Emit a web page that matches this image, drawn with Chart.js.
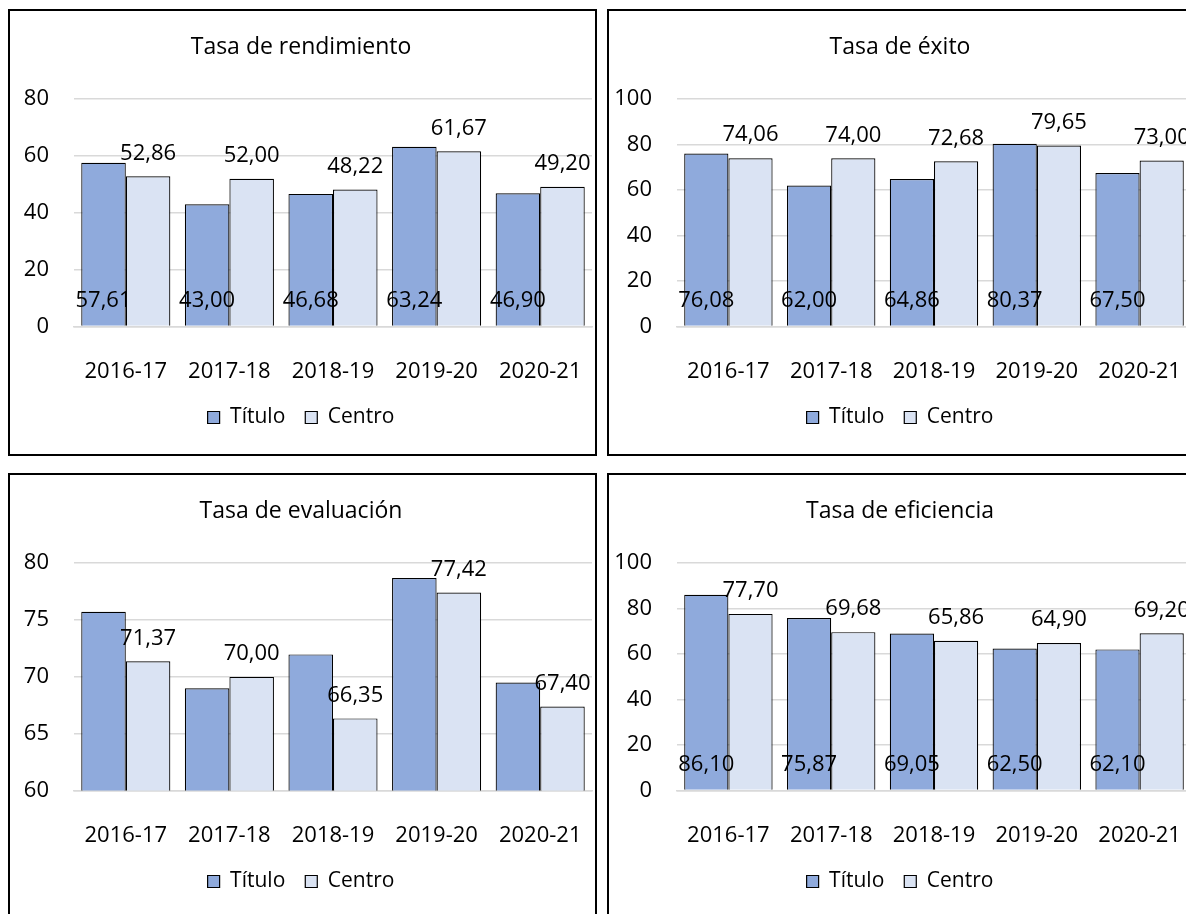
<!DOCTYPE html>
<html>
<head>
<meta charset="utf-8">
<script src="https://cdn.jsdelivr.net/npm/chart.js@4"></script>
<style>
  html, body { margin: 0; padding: 0; background: #fff; overflow: hidden; width: 1186px; height: 914px; }
  .panel { position: absolute; width: 585px; height: 443px; border: 2px solid #000; background: #fff; }
  canvas { display: block; }
</style>
</head>
<body>
<div class="panel" style="left:8px; top:9px;"><canvas id="rendChart" width="585" height="443"></canvas></div>
<div class="panel" style="left:607px; top:9px;"><canvas id="exitoChart" width="585" height="443"></canvas></div>
<div class="panel" style="left:8px; top:473px;"><canvas id="evalChart" width="585" height="443"></canvas></div>
<div class="panel" style="left:607px; top:473px;"><canvas id="eficChart" width="585" height="443"></canvas></div>
<script>
// Data
const years = ['2016-17', '2017-18', '2018-19', '2019-20', '2020-21'];
const seriesNames = ['Título', 'Centro'];

const rendTitulo = [57.61, 43.00, 46.68, 63.24, 46.90];
const rendCentro = [52.86, 52.00, 48.22, 61.67, 49.20];

const exitoTitulo = [76.08, 62.00, 64.86, 80.37, 67.50];
const exitoCentro = [74.06, 74.00, 72.68, 79.65, 73.00];

const evalTitulo = [75.72, 69.00, 71.98, 78.69, 69.50];
const evalCentro = [71.37, 70.00, 66.35, 77.42, 67.40];

const eficTitulo = [86.10, 75.87, 69.05, 62.50, 62.10];
const eficCentro = [77.70, 69.68, 65.86, 64.90, 69.20];

const FONT = '"Open Sans", "Noto Sans", sans-serif';

// value labels: Título at the base of the bar, Centro above the bar
const valueLabels = {
  id: 'valueLabels',
  afterDatasetsDraw(chart) {
    const ctx = chart.ctx;
    ctx.save();
    ctx.font = '22px ' + FONT;
    ctx.fillStyle = '#000';
    ctx.textAlign = 'center';
    ctx.textBaseline = 'middle';
    chart.data.datasets.forEach((ds, i) => {
      chart.getDatasetMeta(i).data.forEach((bar, j) => {
        const txt = ds.data[j].toFixed(2).replace('.', ',');
        const y = i === 0 ? bar.base - 25 : bar.y - 23;
        ctx.fillText(txt, bar.x, y);
      });
    });
    ctx.restore();
  }
};

function makeChart(id, title, titulo, centro, yMin, yMax, yStep, axisWidth) {
  const ctx = document.getElementById(id).getContext('2d');
  return new Chart(ctx, {
    type: 'bar',
    data: {
      labels: years,
      datasets: [{
        label: seriesNames[0],
        data: titulo,
        backgroundColor: '#8FAADC',
        borderColor: '#000',
        borderWidth: 1.2,
        barPercentage: 1,
        categoryPercentage: 0.86
      }, {
        label: seriesNames[1],
        data: centro,
        backgroundColor: '#DAE3F3',
        borderColor: '#000',
        borderWidth: 1.2,
        barPercentage: 1,
        categoryPercentage: 0.86
      }]
    },
    options: {
      responsive: false,
      animation: false,
      layout: { padding: { left: 0, right: 3, top: 0, bottom: 16 } },
      plugins: {
        title: {
          display: true,
          text: title,
          color: '#000',
          font: { family: FONT, size: 23, weight: 'normal' },
          padding: { top: 23, bottom: 37.6 }
        },
        legend: {
          position: 'bottom',
          labels: {
            color: '#000',
            font: { family: FONT, size: 21 },
            boxWidth: 12,
            boxHeight: 12,
            padding: 20
          }
        },
        tooltip: { enabled: false }
      },
      scales: {
        x: {
          grid: { display: false, drawTicks: false },
          border: { display: true, color: '#d9d9d9', width: 1.5 },
          ticks: { color: '#000', font: { family: FONT, size: 22 }, padding: 32 },
          afterFit(scale) {
            scale.height = 60.4;
            scale.paddingLeft = 0;
            scale.paddingRight = 0;
          }
        },
        y: {
          min: yMin,
          max: yMax,
          grid: { color: '#d9d9d9', lineWidth: 1.5, drawTicks: false },
          border: { display: false },
          ticks: { stepSize: yStep, color: '#000', font: { family: FONT, size: 22 }, padding: 25 },
          afterFit(scale) { scale.width = axisWidth; }
        }
      }
    },
    plugins: [valueLabels]
  });
}

makeChart('rendChart', 'Tasa de rendimiento', rendTitulo, rendCentro, 0, 80, 20, 64);
makeChart('exitoChart', 'Tasa de éxito', exitoTitulo, exitoCentro, 0, 100, 20, 68);
makeChart('evalChart', 'Tasa de evaluación', evalTitulo, evalCentro, 60, 80, 5, 64);
makeChart('eficChart', 'Tasa de eficiencia', eficTitulo, eficCentro, 0, 100, 20, 68);
</script>
</body>
</html>
